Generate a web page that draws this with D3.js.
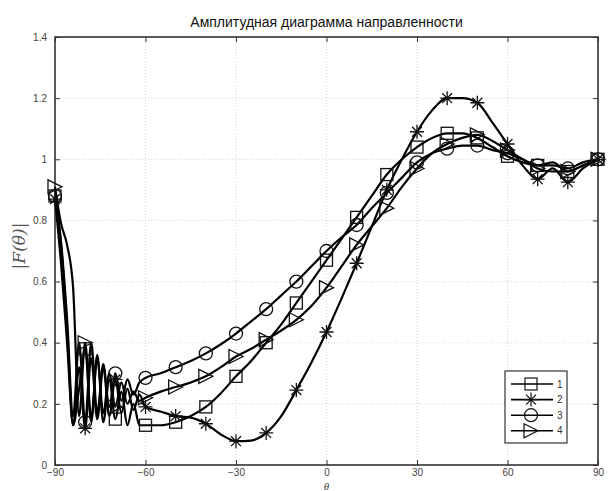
<!DOCTYPE html>
<html>
<head>
<meta charset="utf-8">
<script src="https://cdn.jsdelivr.net/npm/d3@7"></script>
<style>
  html, body { margin: 0; padding: 0; background: #fff; }
  svg { display: block; font-family: "Liberation Sans", Arial, sans-serif; }
</style>
</head>
<body>
<svg id="chart" width="610" height="491"></svg>
<script>
// ---------- data ----------
const theta = [-90,-88,-86,-84,-82,-80,-78,-76,-74,-72,-70,-68,-66,-64,-62,-60,
  -55,-50,-45,-40,-35,-30,-25,-20,-15,-10,-5,0,5,10,15,20,25,30,35,40,45,50,55,60,65,70,75,80,85,90];

const series1 = [0.88,0.72,0.45,0.13,0.25,0.38,0.14,0.36,0.14,0.28,0.15,0.24,0.13,0.20,0.13,0.13,
  0.13,0.14,0.16,0.19,0.235,0.29,0.34,0.40,0.46,0.53,0.60,0.67,0.74,0.81,0.88,0.95,1.00,1.04,1.07,1.085,1.085,1.07,1.04,1.01,0.99,0.98,0.99,0.96,0.98,1.00];

const series2 = [0.87,0.66,0.40,0.13,0.32,0.12,0.35,0.15,0.32,0.16,0.28,0.17,0.25,0.18,0.23,0.19,
  0.175,0.16,0.155,0.135,0.10,0.078,0.08,0.105,0.16,0.245,0.335,0.435,0.545,0.66,0.78,0.90,1.00,1.09,1.16,1.20,1.20,1.185,1.12,1.05,0.98,0.935,0.97,0.925,0.97,1.00];

const series3 = [0.88,0.73,0.48,0.16,0.40,0.14,0.40,0.17,0.33,0.19,0.30,0.21,0.28,0.23,0.27,0.285,
  0.30,0.32,0.34,0.365,0.395,0.43,0.47,0.51,0.555,0.60,0.65,0.70,0.745,0.785,0.84,0.89,0.94,0.99,1.02,1.035,1.045,1.045,1.03,1.02,1.00,0.98,0.98,0.97,0.99,1.00];

const series4 = [0.91,0.79,0.72,0.58,0.16,0.40,0.15,0.35,0.17,0.30,0.19,0.27,0.20,0.24,0.21,0.22,
  0.24,0.255,0.27,0.29,0.32,0.355,0.38,0.41,0.44,0.475,0.52,0.58,0.65,0.72,0.78,0.84,0.91,0.97,1.02,1.05,1.07,1.08,1.06,1.03,1.00,0.97,0.96,0.96,0.98,1.00];

const seriesNames = ["1","2","3","4"];
const markerTypes = ["square","asterisk","circle","triangle"];
const xTicks = [-90,-60,-30,0,30,60,90];
const yTicks = [0,0.2,0.4,0.6,0.8,1,1.2,1.4];
const titleText = "Амплитудная диаграмма направленности";

// ---------- layout ----------
const svg = d3.select("#chart");
const L = 55, R = 598, T = 37, B = 465;
const x = d3.scaleLinear().domain([-90, 90]).range([L, R]);
const y = d3.scaleLinear().domain([0, 1.4]).range([B, T]);

// grid
const grid = svg.append("g").attr("stroke", "#c8c8c8").attr("stroke-width", 0.8)
  .attr("stroke-dasharray", "1,2");
grid.selectAll(".gx").data(xTicks.slice(1, -1)).enter().append("line")
  .attr("x1", d => x(d)).attr("x2", d => x(d)).attr("y1", T).attr("y2", B);
grid.selectAll(".gy").data(yTicks.slice(1, -1)).enter().append("line")
  .attr("x1", L).attr("x2", R).attr("y1", d => y(d)).attr("y2", d => y(d));

// axes (MATLAB box with inward ticks)
const axColor = "#333";
const xAxisB = d3.axisBottom(x).tickValues(xTicks).tickSizeInner(-5).tickSizeOuter(0).tickPadding(4).tickFormat(d3.format("d"));
const xAxisT = d3.axisTop(x).tickValues(xTicks).tickSizeInner(-5).tickSizeOuter(0).tickFormat("");
const yAxisL = d3.axisLeft(y).tickValues(yTicks).tickSizeInner(-5).tickSizeOuter(0).tickPadding(8).tickFormat(d => d3.format("~g")(d));
const yAxisR = d3.axisRight(y).tickValues(yTicks).tickSizeInner(-5).tickSizeOuter(0).tickFormat("");

function styleAxis(g) {
  g.select(".domain").remove();
  g.selectAll(".tick line").attr("stroke", axColor).attr("stroke-width", 1);
  g.selectAll(".tick text").attr("fill", "#444").style("font-size", "10px");
}
svg.append("g").attr("transform", `translate(0,${B})`).call(xAxisB).call(styleAxis);
svg.append("g").attr("transform", `translate(0,${T})`).call(xAxisT).call(styleAxis);
svg.append("g").attr("transform", `translate(${L},0)`).call(yAxisL).call(styleAxis);
svg.append("g").attr("transform", `translate(${R},0)`).call(yAxisR).call(styleAxis);

svg.append("rect").attr("x", L).attr("y", T).attr("width", R - L).attr("height", B - T)
  .attr("fill", "none").attr("stroke", axColor).attr("stroke-width", 1.6);

// ---------- markers ----------
function drawMarker(g, type, cx, cy) {
  const s = 6;
  if (type === "square") {
    g.append("rect").attr("x", cx - s).attr("y", cy - s).attr("width", 2 * s).attr("height", 2 * s);
  } else if (type === "circle") {
    g.append("circle").attr("cx", cx).attr("cy", cy).attr("r", s + 0.5);
  } else if (type === "triangle") {
    const t = 7;
    g.append("path").attr("d", `M${cx - t},${cy - t}L${cx + t},${cy}L${cx - t},${cy + t}Z`);
  } else if (type === "asterisk") {
    const a = 7, b = a * 0.7071;
    g.append("path").attr("d",
      `M${cx - a},${cy}L${cx + a},${cy}M${cx},${cy - a}L${cx},${cy + a}` +
      `M${cx - b},${cy - b}L${cx + b},${cy + b}M${cx - b},${cy + b}L${cx + b},${cy - b}`);
  }
}

// ---------- series ----------
const allSeries = [series1, series2, series3, series4];
const line = d3.line().x(d => x(d[0])).y(d => y(d[1])).curve(d3.curveMonotoneX);
const plot = svg.append("g");

allSeries.forEach((vals, i) => {
  const pts = theta.map((t, k) => [t, vals[k]]);
  plot.append("path").datum(pts).attr("d", line)
    .attr("fill", "none").attr("stroke", "#000").attr("stroke-width", 2.2)
    .attr("stroke-linejoin", "round");
});
allSeries.forEach((vals, i) => {
  const mg = plot.append("g").attr("fill", "none").attr("stroke", "#111").attr("stroke-width", 1.3);
  theta.forEach((t, k) => {
    if (t % 10 === 0) drawMarker(mg, markerTypes[i], x(t), y(vals[k]));
  });
});

// ---------- legend ----------
const lg = svg.append("g");
lg.append("rect").attr("x", 505).attr("y", 371).attr("width", 62).attr("height", 72)
  .attr("fill", "#fff").attr("stroke", axColor).attr("stroke-width", 1.2);
seriesNames.forEach((n, i) => {
  const ly = 384 + i * 15.6;
  lg.append("line").attr("x1", 511).attr("x2", 553).attr("y1", ly).attr("y2", ly)
    .attr("stroke", "#000").attr("stroke-width", 1.6);
  const mg = lg.append("g").attr("fill", "none").attr("stroke", "#111").attr("stroke-width", 1.2);
  drawMarker(mg, markerTypes[i], 531, ly);
  lg.append("text").attr("x", 557).attr("y", ly + 3.5).text(n)
    .attr("fill", "#333").style("font-size", "10px");
});

// ---------- titles ----------
svg.append("text").attr("x", (L + R) / 2).attr("y", 27).attr("text-anchor", "middle")
  .style("font-size", "14px").attr("fill", "#111").text(titleText);

svg.append("text").attr("transform", "translate(25,246) rotate(-90)").attr("text-anchor", "middle")
  .style("font-size", "17px").style("font-family", "'DejaVu Serif', 'Liberation Serif', serif")
  .style("font-style", "italic").attr("fill", "#555").text("|F(θ)|");

svg.append("text").attr("x", (L + R) / 2).attr("y", 490).attr("text-anchor", "middle")
  .style("font-size", "11px").style("font-family", "'Liberation Serif', serif")
  .style("font-style", "italic").attr("fill", "#444").text("θ");
</script>
</body>
</html>
